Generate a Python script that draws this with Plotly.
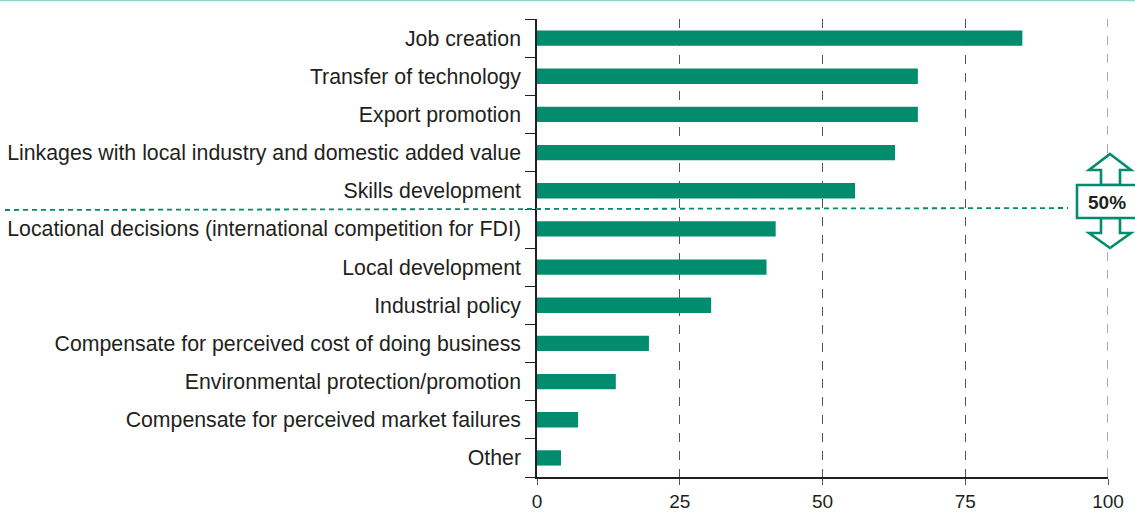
import plotly.graph_objects as go

categories = [
    "Job creation",
    "Transfer of technology",
    "Export promotion",
    "Linkages with local industry and domestic added value",
    "Skills development",
    "Locational decisions (international competition for FDI)",
    "Local development",
    "Industrial policy",
    "Compensate for perceived cost of doing business",
    "Environmental protection/promotion",
    "Compensate for perceived market failures",
    "Other",
]
values = [85, 66.7, 66.7, 62.7, 55.7, 41.8, 40.2, 30.5, 19.6, 13.8, 7.2, 4.2]
x_ticks = [0, 25, 50, 75, 100]

GREEN = "#008c6d"
W, H = 1135, 512
L, R, T, B = 537, 1108, 19, 477  # plot area in pixels


def px(x):
    return (x - L) / (R - L)


def py(y):
    return (B - y) / (B - T)


fig = go.Figure(
    go.Bar(
        x=values,
        y=categories,
        orientation="h",
        marker=dict(color=GREEN, line=dict(width=0)),
        width=0.4,
        hoverinfo="x+y",
    )
)

fig.update_layout(
    template="none",
    width=W,
    height=H,
    margin=dict(l=L, r=W - R, t=T, b=H - B, autoexpand=False),
    paper_bgcolor="white",
    plot_bgcolor="white",
    showlegend=False,
    font=dict(family="Liberation Sans, Arial, sans-serif", size=21, color="#231f20"),
    xaxis=dict(
        automargin=False,
        range=[0, 100],
        tickvals=x_ticks,
        ticktext=[str(v) for v in x_ticks],
        showgrid=True,
        gridcolor="#555555",
        griddash="dash",
        gridwidth=1,
        zeroline=False,
        showline=True,
        linecolor="#231f20",
        linewidth=1.5,
        ticks="outside",
        ticklen=6,
        tickcolor="#555555",
        tickfont=dict(size=19),
        fixedrange=True,
    ),
    yaxis=dict(
        automargin=False,
        categoryorder="array",
        categoryarray=categories[::-1],
        range=[-0.5, len(categories) - 0.5],
        showline=True,
        linecolor="#231f20",
        linewidth=1.5,
        ticks="outside",
        tickson="boundaries",
        ticklen=10,
        tickcolor="#231f20",
        showgrid=False,
        zeroline=False,
        ticklabelstandoff=10,
        tickfont=dict(size=21.3),
        fixedrange=True,
    ),
)

shapes = []
# gridline at the right end of the axis (not drawn by plotly at the range edge)
shapes.append(dict(type="line", xref="x", yref="paper",
                   x0=x_ticks[-1], x1=x_ticks[-1], y0=0, y1=1,
                   line=dict(color="#555555", width=1, dash="dash"), layer="below"))
# top rule
shapes.append(dict(type="line", xref="paper", yref="paper",
                   x0=px(0), x1=px(W), y0=py(0.5), y1=py(0.5),
                   line=dict(color="#93d6c8", width=1.5)))
# 50% dashed threshold line
shapes.append(dict(type="line", xref="paper", yref="paper",
                   x0=px(5), x1=px(1068), y0=py(210), y1=py(208),
                   line=dict(color=GREEN, width=1.8, dash="5px,4px")))
# up / down arrows
up = [(1110, 154), (1131, 170), (1120, 170), (1120, 185), (1101, 185), (1101, 170), (1089, 170)]
dn = [(1110, 248), (1131, 233), (1120, 233), (1120, 218), (1101, 218), (1101, 233), (1089, 233)]


def path(pts):
    return "M " + " L ".join(f"{px(a):.5f},{py(b):.5f}" for a, b in pts) + " Z"


for pts in (up, dn):
    shapes.append(dict(type="path", xref="paper", yref="paper", path=path(pts),
                       fillcolor="white", line=dict(color=GREEN, width=2.6), layer="above"))
# box
shapes.append(dict(type="rect", xref="paper", yref="paper",
                   x0=px(1077), x1=px(1140), y0=py(218), y1=py(185),
                   fillcolor="white", line=dict(color=GREEN, width=2.6), layer="above"))

fig.update_layout(shapes=shapes)
fig.add_annotation(xref="paper", yref="paper", x=px(1107), y=py(202),
                   xanchor="center", yanchor="middle",
                   text="<b>50%</b>", showarrow=False,
                   font=dict(size=19, color="#231f20"))

fig.write_html(
    "out.html",
    config={"displayModeBar": False},
    post_script="document.body.style.margin='0';document.body.style.overflow='hidden';",
)
